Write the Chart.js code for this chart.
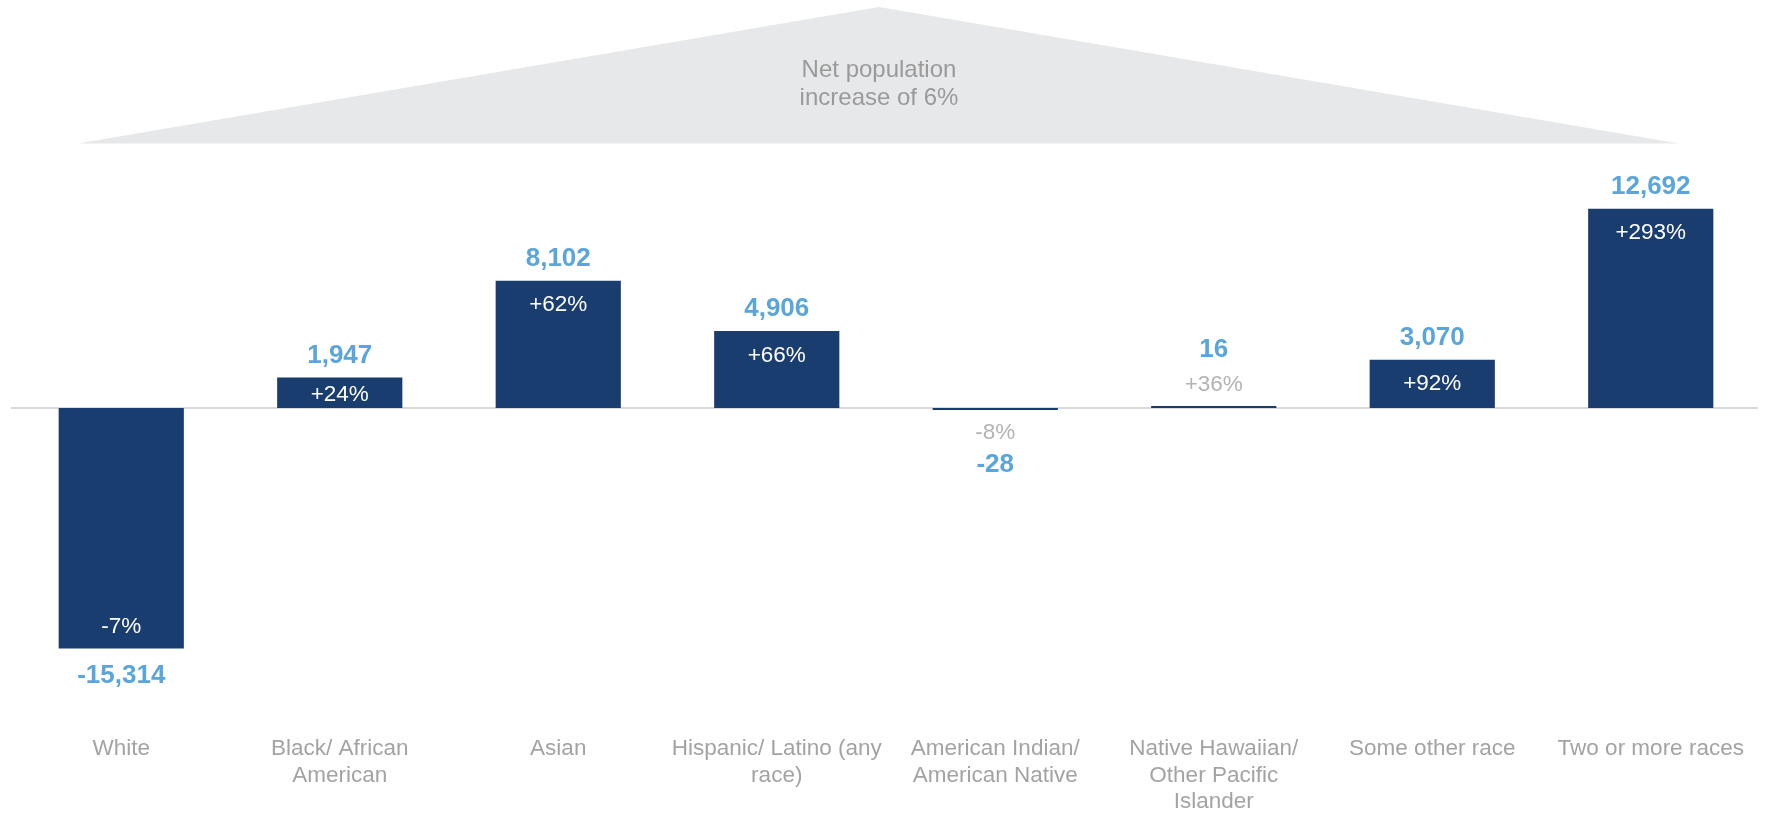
<!DOCTYPE html>
<html>
<head>
<meta charset="utf-8">
<script src="https://cdn.jsdelivr.net/npm/chart.js@4.4.1/dist/chart.umd.min.js"></script>
<style>
  html, body { margin: 0; padding: 0; background: #ffffff; }
  #wrap { width: 1769px; height: 813px; position: relative; }
</style>
</head>
<body>
<div id="wrap"><canvas id="c" width="1769" height="813"></canvas></div>
<script>
// ---- Data ----
const categories = [
  'White',
  ['Black/ African', 'American'],
  'Asian',
  ['Hispanic/ Latino (any', 'race)'],
  ['American Indian/', 'American Native'],
  ['Native Hawaiian/', 'Other Pacific', 'Islander'],
  'Some other race',
  'Two or more races'
];
const netChange = [-15314, 1947, 8102, 4906, -28, 16, 3070, 12692];
const pctChange = [-7, 24, 62, 66, -8, 36, 92, 293];
const headlineLines = ['Net population', 'increase of 6%'];

// ---- Styles ----
const BAR = '#1a3d6f';
const VALUE_BLUE = '#5aa5dc';
const GRAY_TXT = '#a3a3a3';
const FONT = '"Liberation Sans", Arial, Helvetica, sans-serif';
const CAP = 0.716;

const fmtValue = v => (v < 0 ? '-' : '') + Math.abs(v).toLocaleString('en-US');
const fmtPct = p => (p > 0 ? '+' : '') + p + '%';

// draw text with its cap-height centre at cy
function centred(ctx, txt, x, cy, size) {
  ctx.fillText(txt, x, cy + size * CAP / 2);
}

const decorPlugin = {
  id: 'decor',
  beforeDraw(chart) {
    const ctx = chart.ctx;
    ctx.save();
    ctx.fillStyle = '#e7e8ea';
    ctx.beginPath();
    ctx.moveTo(879, 7);
    ctx.lineTo(1679, 143.5);
    ctx.lineTo(78, 143.5);
    ctx.closePath();
    ctx.fill();
    ctx.fillStyle = '#9a9a9a';
    ctx.font = '24px ' + FONT;
    ctx.textAlign = 'center';
    ctx.textBaseline = 'alphabetic';
    headlineLines.forEach((t, i) => centred(ctx, t, 879, 68.5 + i * 28.4, 24));
    ctx.restore();
  },
  beforeDatasetsDraw(chart) {
    const ctx = chart.ctx;
    const y0 = chart.scales.y.getPixelForValue(0);
    const a = chart.chartArea;
    ctx.save();
    ctx.strokeStyle = '#d9d9d9';
    ctx.lineWidth = 2;
    ctx.beginPath();
    ctx.moveTo(a.left - 1, y0);
    ctx.lineTo(a.right - 2, y0);
    ctx.stroke();
    ctx.restore();
  },
  afterDatasetsDraw(chart) {
    const ctx = chart.ctx;
    const meta = chart.getDatasetMeta(0);
    const ys = chart.scales.y;
    const y0 = ys.getPixelForValue(0);
    ctx.save();
    ctx.textAlign = 'center';
    ctx.textBaseline = 'alphabetic';
    meta.data.forEach((bar, i) => {
      const v = netChange[i];
      const x = bar.x;
      const yv = ys.getPixelForValue(v);
      const h = Math.abs(yv - y0);
      const pos = v >= 0;
      const dir = pos ? -1 : 1; // outward direction
      if (h < 10) {
        ctx.font = '22.5px ' + FONT;
        ctx.fillStyle = '#b3b3b3';
        centred(ctx, fmtPct(pctChange[i]), x, y0 + dir * (pos ? 25 : 22.5), 22.5);
        ctx.font = 'bold 26px ' + FONT;
        ctx.fillStyle = VALUE_BLUE;
        centred(ctx, fmtValue(v), x, y0 + dir * (pos ? 60 : 55), 26);
      } else {
        const off = Math.min(pos ? 22.5 : 23, h / 2);
        ctx.font = '22.5px ' + FONT;
        ctx.fillStyle = '#ffffff';
        centred(ctx, fmtPct(pctChange[i]), x, yv - dir * off, 22.5);
        ctx.font = 'bold 26px ' + FONT;
        ctx.fillStyle = VALUE_BLUE;
        centred(ctx, fmtValue(v), x, yv + dir * (pos ? 24 : 25.5), 26);
      }
    });
    ctx.restore();
  }
};

new Chart(document.getElementById('c'), {
  type: 'bar',
  data: {
    labels: categories,
    datasets: [{
      data: netChange,
      backgroundColor: BAR,
      borderWidth: 0,
      minBarLength: 2,
      barPercentage: 0.573,
      categoryPercentage: 1.0
    }]
  },
  options: {
    responsive: false,
    devicePixelRatio: 1,
    animation: false,
    layout: { padding: { left: 12, right: 9, top: 94, bottom: -16.5 } },
    plugins: { legend: { display: false }, tooltip: { enabled: false } },
    scales: {
      x: {
        grid: { display: false, drawTicks: false },
        border: { display: false },
        ticks: {
          color: GRAY_TXT,
          font: { family: FONT, size: 22.5, lineHeight: 1.178 },
          padding: 14,
          maxRotation: 0,
          minRotation: 0,
          autoSkip: false
        }
      },
      y: {
        display: false,
        min: -20000,
        max: 20000
      }
    }
  },
  plugins: [decorPlugin]
});
</script>
</body>
</html>
